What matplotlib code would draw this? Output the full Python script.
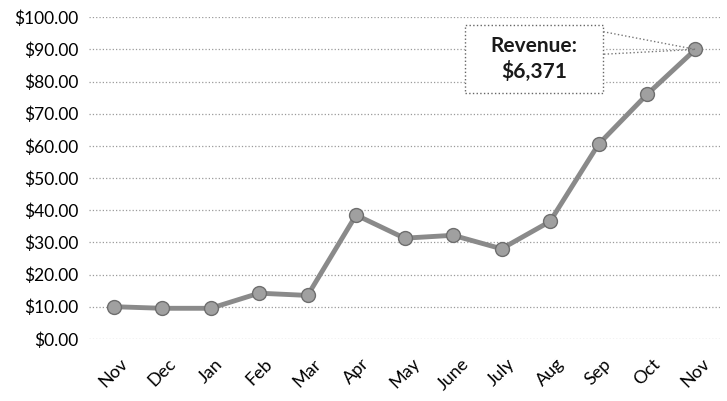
import matplotlib.pyplot as plt
import numpy as np

plt.rcParams['font.family'] = ['Lato', 'DejaVu Sans']

months = ['Nov', 'Dec', 'Jan', 'Feb', 'Mar', 'Apr', 'May', 'June', 'July',
          'Aug', 'Sep', 'Oct', 'Nov']
revenue = [10.0, 9.5, 9.5, 14.2, 13.5, 38.5, 31.3, 32.2, 28.0,
           36.5, 60.5, 76.0, 90.0]
y_ticks = [0, 10, 20, 30, 40, 50, 60, 70, 80, 90, 100]
callout = 'Revenue:\n$6,371'

x = np.arange(len(months))

fig, ax = plt.subplots(figsize=(7.27, 4.01), dpi=100)
fig.subplots_adjust(left=0.123, right=0.99, top=0.957, bottom=0.155)

ax.plot(x, revenue, color='#8a8a8a', lw=3.5, marker='o', markersize=10,
        markerfacecolor='#a0a0a0', markeredgecolor='#6e6e6e', zorder=3)

ax.set_xlim(-0.5, 12.5)
ax.set_ylim(0, 100)
ax.set_yticks(y_ticks)
ax.set_yticklabels(['${:.2f}'.format(v) for v in y_ticks], fontsize=12.5)
ax.set_xticks(x)
ax.set_xticklabels(months, rotation=45, fontsize=13, ha='center')
ax.tick_params(length=0, pad=8)
ax.tick_params(axis='x', pad=12)
ax.grid(axis='y', color='#9a9a9a', ls=':', lw=0.9)
for s in ax.spines.values():
    s.set_visible(False)

# callout box with wedge pointing at last point
bx0, bx1, by0, by1 = 7.25, 10.1, 76.5, 97.5
ax.fill([bx0, bx1, bx1, bx0], [by0, by0, by1, by1], color='white', zorder=4)
ax.plot([bx0, bx1, bx1, bx0, bx0], [by0, by0, by1, by1, by0],
        color='#666666', ls=':', lw=1.0, zorder=5)
ax.plot([bx1, x[-1], bx1], [95.5, revenue[-1], 88.5],
        color='#777777', ls=':', lw=1.0, zorder=5)
ax.text((bx0 + bx1) / 2, (by0 + by1) / 2, callout, ha='center', va='center',
        fontsize=15, fontweight='bold', color='#1a1a1a', linespacing=1.3,
        zorder=6)

fig.savefig('out.png', dpi=100)
